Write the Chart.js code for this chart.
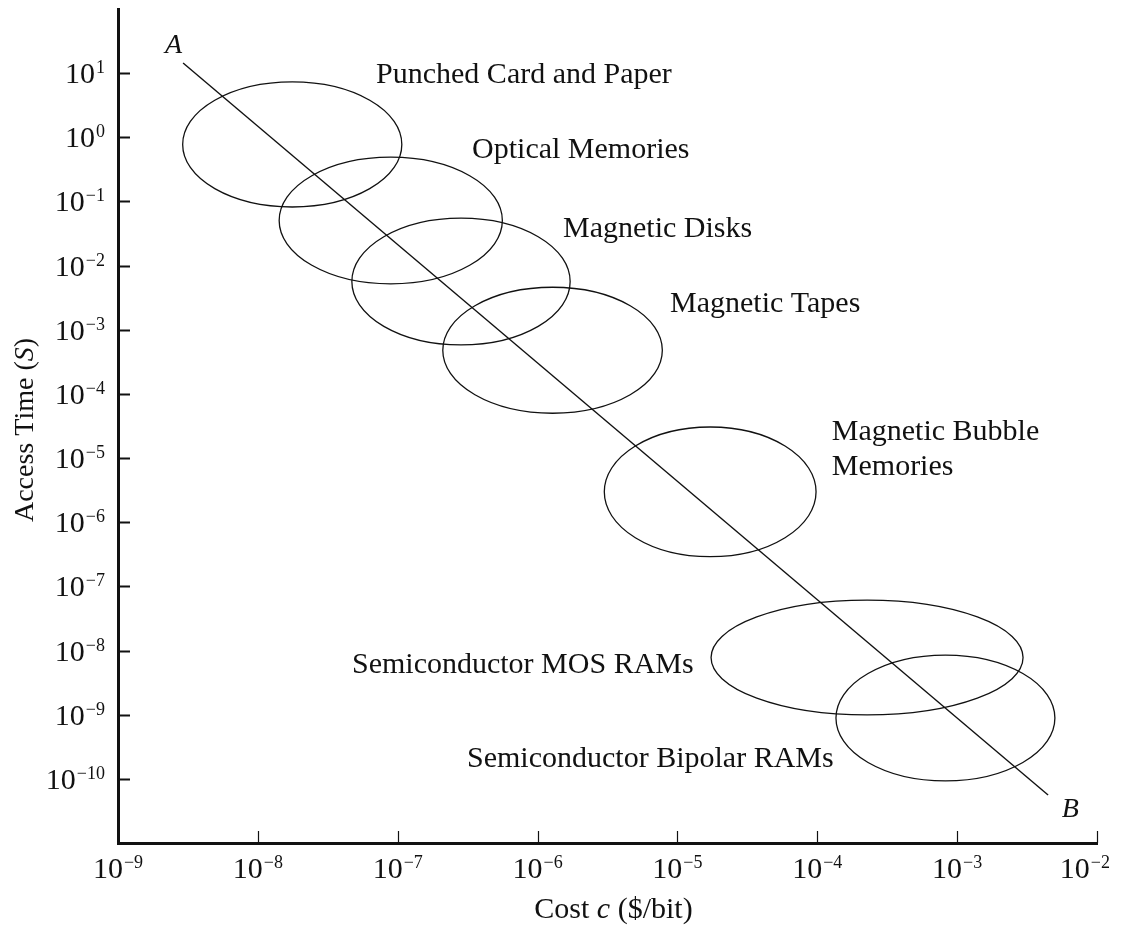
<!DOCTYPE html>
<html>
<head>
<meta charset="utf-8">
<script src="https://cdn.jsdelivr.net/npm/chart.js@4.4.1/dist/chart.umd.min.js"></script>
<style>
  html, body { margin: 0; padding: 0; background: #fff; }
  #wrap { width: 1138px; height: 930px; position: relative; }
</style>
</head>
<body>
<div id="wrap"><canvas id="chart"></canvas></div>
<script>
// memory technologies: cost range ($/bit) and access time range (s) of each ellipse
const techNames = [
    'Punched Card and Paper',
    'Optical Memories',
    'Magnetic Disks',
    'Magnetic Tapes',
    'Magnetic Bubble\nMemories',
    'Semiconductor MOS RAMs',
    'Semiconductor Bipolar RAMs'
];
const costLow  = [2.9e-9, 1.42e-8, 4.7e-8, 2.1e-7, 3.0e-6, 1.74e-5, 1.36e-4];
const costHigh = [1.07e-7, 5.6e-7, 1.71e-6, 7.8e-6, 9.8e-5, 2.96e-3, 5.0e-3];
const timeLow  = [0.082, 5.2e-3, 5.8e-4, 5.0e-5, 2.9e-7, 9.9e-10, 9.3e-11];
const timeHigh = [7.3, 0.49, 0.055, 4.6e-3, 3.05e-5, 6.1e-8, 8.5e-9];

// where each name sits (cost / time of the left end of its baseline)
const nameCost = [7.0e-8, 3.4e-7, 1.52e-6, 8.85e-6, 1.27e-4, 4.71e-8, 3.13e-7];
const nameTime = [7.0, 0.475, 0.0279, 1.89e-3, 1.91e-5, 4.46e-9, 1.53e-10];

// trend line A -> B
const trendCost = [2.92e-9, 4.47e-3];
const trendTime = [14.4, 5.6e-11];
const endNames = ['A', 'B'];
const endCost = [2.17e-9, 5.6e-3];
const endTime = [20.6, 2.54e-11];

// axis decades
const xTickExp = [-9, -8, -7, -6, -5, -4, -3, -2];
const yTickExp = [1, 0, -1, -2, -3, -4, -5, -6, -7, -8, -9, -10];

const INK = '#111';
const SERIF = '"Liberation Serif", "Times New Roman", serif';

function expText(e) {
    return e < 0 ? '\u2212' + (-e) : String(e);
}

// "10" with a raised exponent, anchored at x (center or right) on baseline y
function drawPower(ctx, e, x, y, align, maxRight) {
    ctx.font = '30px ' + SERIF;
    const wb = ctx.measureText('10').width;
    ctx.font = '18px ' + SERIF;
    const we = ctx.measureText(expText(e)).width;
    const total = wb + 1 + we;
    let left = align === 'center' ? x - total / 2 : x - total;
    if (maxRight && left + total > maxRight) left = maxRight - total;
    ctx.textAlign = 'left';
    ctx.font = '30px ' + SERIF;
    ctx.fillText('10', left, y);
    ctx.font = '18px ' + SERIF;
    ctx.fillText(expText(e), left + wb + 1, y - 10);
}

// pieces of text drawn one after another, some italic
function drawRun(ctx, parts, size, cx, y) {
    const widths = parts.map(p => {
        ctx.font = (p.italic ? 'italic ' : '') + size + 'px ' + SERIF;
        return ctx.measureText(p.t).width;
    });
    let x = cx - widths.reduce((a, b) => a + b, 0) / 2;
    ctx.textAlign = 'left';
    parts.forEach((p, i) => {
        ctx.font = (p.italic ? 'italic ' : '') + size + 'px ' + SERIF;
        ctx.fillText(p.t, x, y);
        x += widths[i];
    });
}

const pen = {
    id: 'pen',
    afterDatasetsDraw(chart) {
        const { ctx, scales: { x, y } } = chart;
        ctx.save();
        ctx.strokeStyle = INK;
        ctx.fillStyle = INK;
        ctx.textBaseline = 'alphabetic';

        // ellipses
        ctx.lineWidth = 1.3;
        techNames.forEach((name, i) => {
            const x0 = x.getPixelForValue(costLow[i]);
            const x1 = x.getPixelForValue(costHigh[i]);
            const y0 = y.getPixelForValue(timeHigh[i]);
            const y1 = y.getPixelForValue(timeLow[i]);
            ctx.beginPath();
            ctx.ellipse((x0 + x1) / 2, (y0 + y1) / 2, (x1 - x0) / 2, (y1 - y0) / 2, 0, 0, Math.PI * 2);
            ctx.stroke();
        });

        // names
        ctx.font = '30px ' + SERIF;
        ctx.textAlign = 'left';
        techNames.forEach((name, i) => {
            const px = x.getPixelForValue(nameCost[i]);
            const py = y.getPixelForValue(nameTime[i]);
            name.split('\n').forEach((line, k) => ctx.fillText(line, px, py + k * 35));
        });

        // A and B
        ctx.font = 'italic 28px ' + SERIF;
        endNames.forEach((n, i) => {
            ctx.fillText(n, x.getPixelForValue(endCost[i]), y.getPixelForValue(endTime[i]));
        });
        ctx.restore();
    },
    afterDraw(chart) {
        const { ctx, scales: { x, y } } = chart;
        const area = chart.chartArea;
        ctx.save();
        ctx.strokeStyle = INK;
        ctx.fillStyle = INK;
        ctx.textBaseline = 'alphabetic';

        // inward tick marks
        ctx.lineWidth = 2;
        yTickExp.forEach(e => {
            const py = Math.round(y.getPixelForValue(Math.pow(10, e))) + 0.5;
            ctx.beginPath();
            ctx.moveTo(area.left, py);
            ctx.lineTo(area.left + 12, py);
            ctx.stroke();
        });
        ctx.lineWidth = 1.2;
        xTickExp.slice(1).forEach(e => {
            const px = Math.round(x.getPixelForValue(Math.pow(10, e))) + 0.5;
            ctx.beginPath();
            ctx.moveTo(px, area.bottom);
            ctx.lineTo(px, area.bottom - 12);
            ctx.stroke();
        });

        // tick labels
        yTickExp.forEach(e => {
            drawPower(ctx, e, area.left - 13, y.getPixelForValue(Math.pow(10, e)) + 10, 'right');
        });
        xTickExp.forEach(e => {
            drawPower(ctx, e, x.getPixelForValue(Math.pow(10, e)), area.bottom + 35, 'center', chart.width - 28);
        });

        // axis titles
        drawRun(ctx, [{ t: 'Cost ' }, { t: 'c', italic: true }, { t: ' ($/bit)' }], 30, (area.left + area.right) / 2 + 6, 918);

        ctx.translate(33, 430);
        ctx.rotate(-Math.PI / 2);
        drawRun(ctx, [{ t: 'Access Time (' }, { t: 'S', italic: true }, { t: ')' }], 28, 0, 0);
        ctx.restore();
    }
};

new Chart(document.getElementById('chart').getContext('2d'), {
    type: 'scatter',
    data: {
        datasets: [{
            label: 'A-B',
            data: trendCost.map((c, i) => ({ x: c, y: trendTime[i] })),
            showLine: true,
            borderColor: INK,
            borderWidth: 1.4,
            pointRadius: 0,
            fill: false
        }]
    },
    options: {
        responsive: true,
        maintainAspectRatio: false,
        animation: false,
        layout: { padding: { left: 118, top: 9, right: 41, bottom: 87 } },
        plugins: {
            legend: { display: false },
            tooltip: { enabled: false }
        },
        scales: {
            x: {
                type: 'logarithmic',
                min: 1e-9,
                max: 1e-2,
                grid: { display: false, drawTicks: false },
                ticks: { display: false },
                border: { display: true, color: INK, width: 3 }
            },
            y: {
                type: 'logarithmic',
                min: 1e-11,
                max: 1e2,
                grid: { display: false, drawTicks: false },
                ticks: { display: false },
                border: { display: true, color: INK, width: 3 }
            }
        }
    },
    plugins: [pen]
});
</script>
</body>
</html>
